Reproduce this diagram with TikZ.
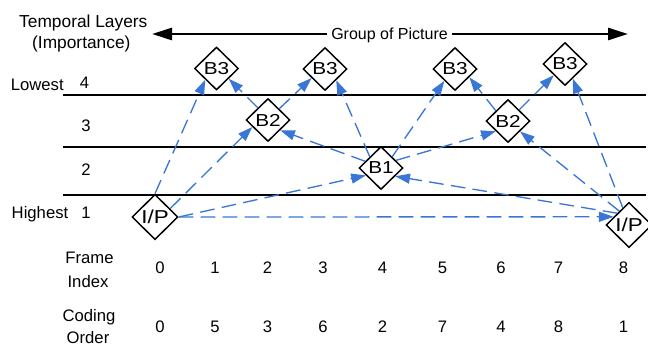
\documentclass[tikz,border=0pt]{standalone}
\usepackage{fontspec}
\setmainfont{Liberation Sans}
\usetikzlibrary{shapes.geometric,arrows.meta}
\definecolor{predblue}{RGB}{58,118,214}
% frame labels inside the diamonds are set a little wider than normal
\newcommand{\framelabel}[1]{\scalebox{1.2}[1]{#1}}

\begin{document}
\begin{tikzpicture}[x=0.75pt,y=-0.75pt,
  frame/.style={diamond, draw=black, line width=1.1pt, fill=white, inner sep=0pt,
    minimum width=33pt, minimum height=32.25pt, font=\fontsize{13}{15}\selectfont},
  keyframe/.style={frame, minimum width=34.5pt, minimum height=34pt,
    font=\fontsize{14}{16}\selectfont},
  layerline/.style={line width=1.3pt},
  pred/.style={draw=predblue, line width=1pt, dash pattern=on 11pt off 5.5pt,
    -{Triangle[length=11pt,width=7.5pt]}},
  lbl/.style={font=\fontsize{12.5}{15}\selectfont, inner sep=0pt, anchor=base},
  gop/.style={line width=2pt,
    {Triangle[length=15pt,width=9pt]}-{Triangle[length=15pt,width=9pt]}},
]
\useasboundingbox (0,0) rectangle (648,346);

% titles
\node[lbl, font=\fontsize{13}{15}\selectfont] (title1) at (83.3,27.3) {Temporal Layers};
\node[lbl, font=\fontsize{13}{15}\selectfont] (title2) at (81.3,48.3) {(Importance)};

% group of picture span
\coordinate (gopL) at (152,34);
\coordinate (gopR) at (628,34);
\draw[gop] (gopL) -- (gopR);
\node[lbl, font=\fontsize{12}{14}\selectfont, fill=white, inner xsep=3pt, inner ysep=1pt]
  (goptext) at (389.5,40) {Group of Picture};

% layer separators
\foreach \yy [count=\i] in {95,147,195} {
  \coordinate (sepL\i) at (63,\yy);
  \coordinate (sepR\i) at (646,\yy);
  \draw[layerline] (sepL\i) -- (sepR\i);
}

% layer labels
\node[lbl] (lowest) at (37.3,90.7) {Lowest};
\node[lbl] (lay4) at (84.5,88) {4};
\node[lbl] (lay3) at (86,131) {3};
\node[lbl] (lay2) at (86,175) {2};
\node[lbl] (lay1) at (86,218) {1};
\node[lbl] (highest) at (40,218.3) {Highest};

% frames
\node[keyframe] (ip0) at (155,217) {\framelabel{I/P}};
\node[frame] (b31) at (216.5,68.5) {\framelabel{B3}};
\node[frame] (b22) at (268,120) {\framelabel{B2}};
\node[frame] (b33) at (325,69) {\framelabel{B3}};
\node[frame] (b1)  at (381,168) {\framelabel{B1}};
\node[frame] (b35) at (455,69) {\framelabel{B3}};
\node[frame] (b26) at (508,121) {\framelabel{B2}};
\node[frame] (b37) at (565,64) {\framelabel{B3}};
\node[keyframe] (ip8) at (629,225) {\framelabel{I/P}};

% prediction references
\draw[pred] (ip0.90)  -- (b31.225);
\draw[pred] (b22.130) -- (b31.320);
\draw[pred] (b22.45)  -- (b33.214);
\draw[pred] (ip0.29)  -- (b22.204);
\draw[pred] (b1.135)  -- (b33.315);
\draw[pred] (b1.157)  -- (b22.320);
\draw[pred] (ip0.0)   -- (b1.206);
\draw[pred] (ip0.0)   -- (ip8.152);
\draw[pred] (ip8.135) -- (b1.330);
\draw[pred] (b1.27)   -- (b26.220);
\draw[pred] (b1.45)   -- (b35.228);
\draw[pred] (ip8.125) -- (b26.319);
\draw[pred] (ip8.110) -- (b37.298);
\draw[pred] (b26.45)  -- (b37.225);
\draw[pred] (b26.140) -- (b35.330);

% frame index and coding order rows
\node[lbl] (fiA) at (89.5,263.3) {Frame};
\node[lbl] (fiB) at (88,287) {Index};
\node[lbl] (coA) at (89,321.5) {Coding};
\node[lbl] (coB) at (88,343) {Order};
\foreach \xx/\fnum/\cnum [count=\k] in {160/0/0, 215/1/5, 267.5/2/3, 323/3/6, 382.5/4/2,
                                   442.5/5/7, 501/6/4, 558.5/7/8, 623.5/8/1} {
  \node[lbl] (fidx\k) at (\xx,273.3) {\fnum};
  \node[lbl] (cord\k) at (\xx,332) {\cnum};
}
\end{tikzpicture}
\end{document}
